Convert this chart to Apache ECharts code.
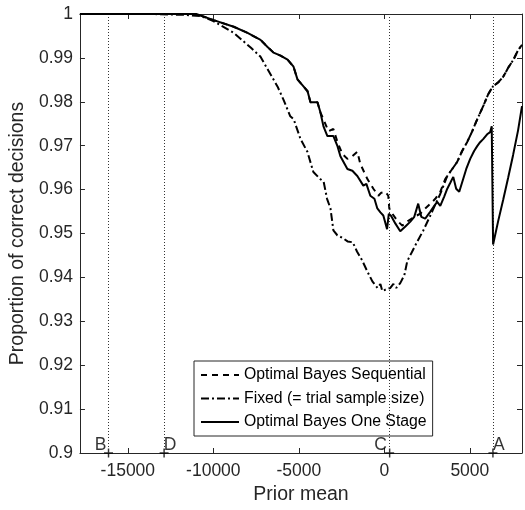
<!DOCTYPE html>
<html>
<head>
<meta charset="utf-8">
<script src="https://cdn.jsdelivr.net/npm/echarts@6/dist/echarts.min.js"></script>
<style>
  html, body { margin: 0; padding: 0; background: #fff; }
  #chart { width: 525px; height: 510px; }
</style>
</head>
<body>
<div id="chart"></div>
<script>
// values, [prior mean, proportion correct]
var oneStage = [
  [-17800, 1], [-11900, 1], [-11000, 1], [-9980, 0.9986], [-8810, 0.9971], [-8000, 0.9957],
  [-7240, 0.9941], [-6830, 0.9925], [-6480, 0.9912], [-6070, 0.9905], [-5660, 0.9896],
  [-5310, 0.988], [-5080, 0.9851], [-4730, 0.9835], [-4490, 0.9824], [-4320, 0.9799],
  [-3910, 0.9799], [-3740, 0.9776], [-3560, 0.9744], [-3330, 0.9722], [-2980, 0.9722],
  [-2740, 0.9699], [-2570, 0.9676], [-2160, 0.9647], [-1870, 0.9643], [-1580, 0.9631],
  [-1230, 0.9609], [-1050, 0.9613], [-820, 0.9586], [-580, 0.9579], [-410, 0.9557],
  [-230, 0.9548], [-60, 0.9541], [160, 0.951], [260, 0.9545], [400, 0.954], [640, 0.9523],
  [930, 0.9505], [1230, 0.9516], [1520, 0.9527], [1750, 0.9538], [1980, 0.9568],
  [2160, 0.9538], [2390, 0.9534], [2690, 0.955], [2920, 0.9563], [3090, 0.9572],
  [3270, 0.9563], [3500, 0.9584], [3680, 0.9602], [3850, 0.9615], [4030, 0.9629],
  [4200, 0.9602], [4380, 0.9595], [4610, 0.9624], [4790, 0.9647], [5020, 0.967],
  [5250, 0.9688], [5430, 0.9699], [5600, 0.9708], [5780, 0.9715], [6010, 0.9726],
  [6190, 0.9731], [6280, 0.9744], [6360, 0.9475], [6650, 0.9527], [6950, 0.9577],
  [7240, 0.9627], [7530, 0.9679], [7820, 0.9735], [8050, 0.979]
];

var fixedSize = [
  [-17800, 1], [-13700, 1], [-11600, 0.9998], [-10700, 0.9995], [-10000, 0.9984],
  [-8800, 0.9957], [-7800, 0.9923], [-7250, 0.9903], [-6750, 0.9869], [-6250, 0.9835],
  [-5900, 0.9805], [-5500, 0.9767], [-5300, 0.976], [-4900, 0.9715], [-4500, 0.9686],
  [-4150, 0.964], [-3750, 0.9624], [-3550, 0.9618], [-3350, 0.9579], [-3150, 0.9557],
  [-2980, 0.9507], [-2750, 0.9496], [-2400, 0.9489], [-2150, 0.9482], [-1850, 0.948],
  [-1600, 0.9459], [-1300, 0.9439], [-1000, 0.9414], [-700, 0.9391], [-400, 0.9376],
  [-230, 0.9385], [-120, 0.9369], [120, 0.9373], [350, 0.9376], [530, 0.9385],
  [700, 0.9376], [930, 0.9387], [1170, 0.9405], [1340, 0.9437], [1630, 0.9459],
  [1930, 0.9482], [2280, 0.9507], [2690, 0.9541], [2980, 0.9566], [3270, 0.959],
  [3680, 0.9631], [3970, 0.9647], [4260, 0.9663], [4550, 0.9688], [4840, 0.9708],
  [5140, 0.9733], [5430, 0.976], [5780, 0.979], [6070, 0.9817], [6350, 0.9835],
  [6650, 0.9844], [6950, 0.9857], [7250, 0.9878], [7550, 0.9896], [7800, 0.9916],
  [8050, 0.993]
];

var sequential = [
  [-17800, 1], [-11900, 1], [-11000, 1], [-9980, 0.9986], [-8810, 0.9971], [-8000, 0.9957],
  [-7240, 0.9941], [-6830, 0.9925], [-6480, 0.9912], [-6070, 0.9905], [-5660, 0.9896],
  [-5310, 0.988], [-5080, 0.9851], [-4730, 0.9835], [-4490, 0.9824], [-4320, 0.9799],
  [-3910, 0.9799], [-3740, 0.9776], [-3560, 0.976], [-3270, 0.9733], [-2980, 0.9738],
  [-2740, 0.9708], [-2450, 0.9681], [-2160, 0.967], [-1870, 0.9676], [-1580, 0.9686],
  [-1400, 0.9658], [-990, 0.9624], [-640, 0.9602], [-350, 0.9586], [-180, 0.9593],
  [60, 0.9595], [230, 0.9586], [290, 0.9557], [470, 0.9545], [760, 0.9529], [1050, 0.9518],
  [1400, 0.9529], [1750, 0.9538], [2100, 0.9545], [2390, 0.9557], [2690, 0.9568],
  [2980, 0.9579], [3270, 0.9595], [3560, 0.9624], [3680, 0.9631], [3970, 0.9647],
  [4260, 0.9663], [4550, 0.9688], [4840, 0.9708], [5140, 0.9733], [5430, 0.976],
  [5780, 0.979], [6070, 0.9817], [6350, 0.9835], [6650, 0.9844], [6950, 0.9857],
  [7250, 0.9878], [7550, 0.9896], [7800, 0.9916], [8050, 0.993]
];

var markNames = ['B', 'D', 'C', 'A'];
var markX = [-16130, -12880, 310, 6350];
var xTicks = [-15000, -10000, -5000, 0, 5000];

var axisColor = '#262626';
var font = 'Liberation Sans, Arial, Helvetica, sans-serif';
var labelOffsets = { B: [-8, -8], D: [6, -8], C: [-9, -8], A: [6, -8] };

var chart = echarts.init(document.getElementById('chart'));

var xBase = {
  type: 'value',
  min: -17800,
  max: 8050,
  splitLine: { show: false },
  axisLine: { onZero: false, lineStyle: { color: axisColor, width: 1 } },
  axisTick: { inside: true, length: 5, customValues: xTicks, lineStyle: { color: axisColor } }
};
var yBase = {
  type: 'value',
  min: 0.9,
  max: 1,
  interval: 0.01,
  splitLine: { show: false },
  axisLine: { onZero: false, lineStyle: { color: axisColor, width: 1 } },
  axisTick: { inside: true, length: 5, lineStyle: { color: axisColor } }
};

var option = {
  animation: false,
  backgroundColor: '#fff',
  textStyle: { fontFamily: font },
  grid: { left: 79, right: 3, top: 14, bottom: 54, containLabel: false },
  legend: {
    left: 194,
    top: 361,
    orient: 'vertical',
    padding: [6, 6, 6, 6],
    itemGap: 7.5,
    itemWidth: 38,
    itemHeight: 14,
    itemTextGap: 5,
    backgroundColor: '#fff',
    borderColor: axisColor,
    borderWidth: 1,
    borderRadius: 0,
    itemStyle: { opacity: 0 },
    textStyle: { fontSize: 15.8, color: '#000', fontFamily: font, lineHeight: 14 },
    data: ['Optimal Bayes Sequential', 'Fixed (= trial sample size)', 'Optimal Bayes One Stage']
  },
  xAxis: [
    Object.assign({}, xBase, {
      position: 'bottom',
      name: 'Prior mean',
      nameLocation: 'middle',
      nameGap: 32,
      nameTextStyle: { fontSize: 19.5, color: axisColor },
      axisLabel: {
        customValues: xTicks,
        margin: 9,
        fontSize: 17.5,
        color: axisColor,
        formatter: function (v) { return String(v); }
      }
    }),
    Object.assign({}, xBase, { position: 'top', axisLabel: { show: false } })
  ],
  yAxis: [
    Object.assign({}, yBase, {
      position: 'left',
      name: 'Proportion of correct decisions',
      nameLocation: 'middle',
      nameGap: 45,
      nameTextStyle: { fontSize: 19.5, color: axisColor },
      axisLabel: {
        margin: 7,
        fontSize: 17.5,
        color: axisColor,
        formatter: function (v) { return String(parseFloat(v.toFixed(2))); }
      }
    }),
    Object.assign({}, yBase, { position: 'right', axisLabel: { show: false } })
  ],
  series: [
    {
      name: 'Optimal Bayes Sequential',
      type: 'line',
      data: sequential,
      symbol: 'none',
      z: 3,
      lineStyle: { color: '#000', width: 2, type: [6, 5] },
      itemStyle: { color: '#000' }
    },
    {
      name: 'Fixed (= trial sample size)',
      type: 'line',
      data: fixedSize,
      symbol: 'none',
      z: 4,
      lineStyle: { color: '#000', width: 2, type: [8, 3, 2, 3] },
      itemStyle: { color: '#000' }
    },
    {
      name: 'Optimal Bayes One Stage',
      type: 'line',
      data: oneStage,
      symbol: 'none',
      z: 5,
      lineStyle: { color: '#000', width: 2 },
      itemStyle: { color: '#000' }
    },
    {
      name: 'marks',
      type: 'scatter',
      silent: true,
      z: 2,
      symbol: 'path://M4.2,0H5.8V10H4.2ZM0,4.2H10V5.8H0Z',
      symbolSize: 9,
      itemStyle: { color: '#000' },
      data: markNames.map(function (n, i) {
        return {
          value: [markX[i], 0.9],
          label: {
            show: true,
            formatter: n,
            position: 'inside',
            offset: labelOffsets[n],
            fontSize: 17.5,
            color: '#000',
            fontFamily: font
          }
        };
      }),
      markLine: {
        silent: true,
        symbol: 'none',
        label: { show: false },
        lineStyle: { color: '#333', width: 1, type: [1, 2] },
        data: markX.map(function (x) { return { xAxis: x }; })
      }
    }
  ]
};

chart.setOption(option);
</script>
</body>
</html>
